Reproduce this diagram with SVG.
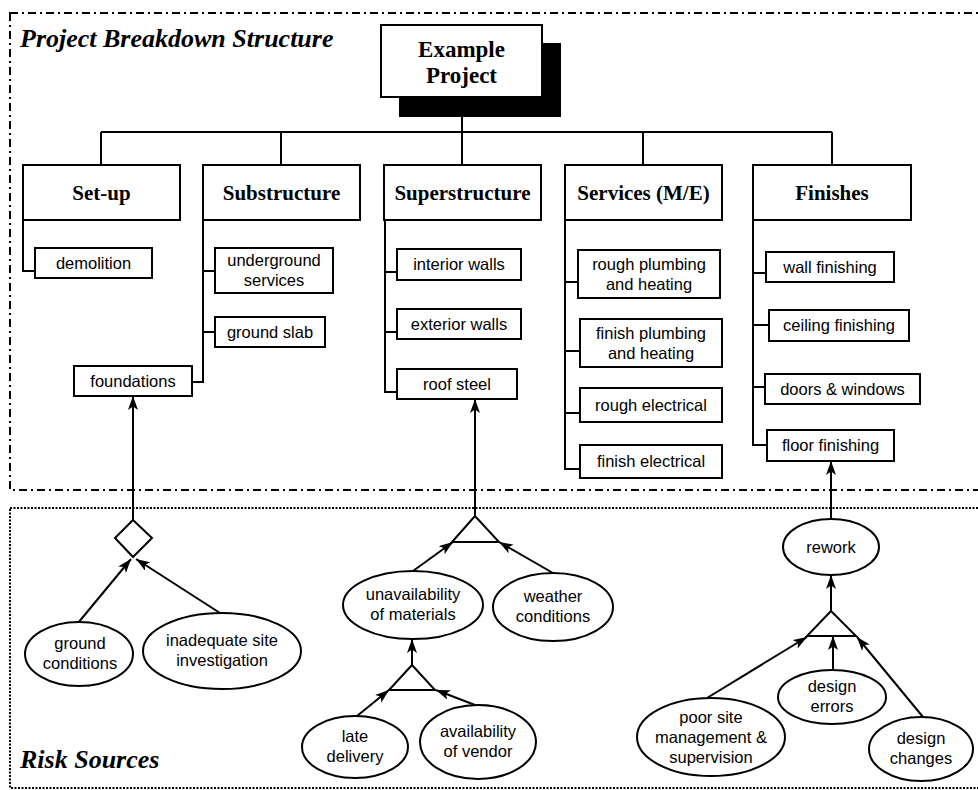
<svg xmlns="http://www.w3.org/2000/svg" width="978" height="790" viewBox="0 0 978 790">
<defs>
<marker id="arr" markerUnits="userSpaceOnUse" markerWidth="14" markerHeight="10" viewBox="0 0 14 10" refX="14" refY="5" orient="auto">
<path d="M0,0 L14,5 L0,10 L3.5,5 Z" fill="#000"/>
</marker>
<style>
.frame1{fill:none;stroke:#000;stroke-width:2;stroke-dasharray:8 4 2 4}
.frame2{fill:none;stroke:#000;stroke-width:2;stroke-dasharray:2 1.5}
.title{font-family:"Liberation Serif",serif;font-weight:bold;font-style:italic;font-size:26px;fill:#000}
.cat{fill:#fff;stroke:#000;stroke-width:2}
.catt{font-family:"Liberation Serif",serif;font-weight:bold;font-size:21px;fill:#000;text-anchor:middle}
.box{fill:#fff;stroke:#000;stroke-width:2}
.t{font-family:"Liberation Sans",Arial,sans-serif;font-size:16.5px;fill:#000;text-anchor:middle}
.ell{fill:#fff;stroke:#000;stroke-width:2}
.ln{fill:none;stroke:#000;stroke-width:2}
.ar{fill:none;stroke:#000;stroke-width:2;marker-end:url(#arr)}
.gate{fill:#fff;stroke:#000;stroke-width:2;stroke-linejoin:miter}
</style>
</defs>
<rect width="978" height="790" fill="#fff"/>

<!-- frames -->
<rect class="frame1" x="10" y="13" width="985" height="477"/>
<rect class="frame2" x="10" y="508" width="985" height="280"/>
<text class="title" x="20" y="47">Project Breakdown Structure</text>
<text class="title" x="20" y="768">Risk Sources</text>

<!-- connectors -->
<g id="connectors">
<path class="ln" d="M462,117 V165 M101,132 H832 M101,132 V165 M281,132 V165 M643,132 V165 M832,132 V165"/>
<path class="ln" d="M23,220 V271 H35"/>
<path class="ln" d="M203,220 V382 H192 M203,271 H215 M203,332 H215"/>
<path class="ln" d="M385,220 V392 H397 M385,272 H397 M385,332 H397"/>
<path class="ln" d="M565,220 V469 H580 M565,282 H578 M565,351 H580 M565,413 H580"/>
<path class="ln" d="M753,220 V445 H767 M753,273 H766 M753,325 H769 M753,387 H765"/>
<path class="ar" d="M133,520 V396"/>
<path class="ar" d="M78,623 L131,559"/>
<path class="ar" d="M220,613 L136,559"/>
<path class="ar" d="M475,516 V399"/>
<path class="ar" d="M413,571 L453,542"/>
<path class="ar" d="M553,573 L499,542"/>
<path class="ar" d="M412,665 V639"/>
<path class="ar" d="M357,716 L389,690"/>
<path class="ar" d="M475,705 L436,690"/>
<path class="ar" d="M831,519 V461"/>
<path class="ar" d="M831,611 V575"/>
<path class="ar" d="M707,698 L807,637"/>
<path class="ar" d="M833,670 V636"/>
<path class="ar" d="M923,717 L857,637"/>
</g>

<!-- gates -->
<g id="gate-diamond"><polygon class="gate" points="133,520 152,538 133,557 115,538"/></g>
<g id="gate-and1"><polygon class="gate" points="475,516 452,542 499,542"/></g>
<g id="gate-and2"><polygon class="gate" points="412,665 389,690 435,690"/></g>
<g id="gate-and3"><polygon class="gate" points="831,611 807,636 856,636"/></g>

<!-- root -->
<g id="example-project">
<rect x="399" y="43" width="162" height="74" fill="#000"/>
<rect class="cat" x="381" y="25" width="161" height="72"/>
<text class="catt" style="font-size:23px" x="461.5" y="57">Example</text>
<text class="catt" style="font-size:23px" x="461.5" y="83">Project</text>
</g>

<!-- categories -->
<g id="setup"><rect class="cat" x="23" y="165" width="157" height="55"/><text class="catt" x="101.5" y="200">Set-up</text></g>
<g id="substructure"><rect class="cat" x="203" y="165" width="157" height="55"/><text class="catt" x="281.5" y="200">Substructure</text></g>
<g id="superstructure"><rect class="cat" x="384" y="165" width="157" height="55"/><text class="catt" x="462.5" y="200">Superstructure</text></g>
<g id="services"><rect class="cat" x="565" y="165" width="157" height="55"/><text class="catt" x="643.5" y="200">Services (M/E)</text></g>
<g id="finishes"><rect class="cat" x="753" y="165" width="158" height="55"/><text class="catt" x="832" y="200">Finishes</text></g>

<!-- work items -->
<g id="demolition"><rect class="box" x="35" y="248" width="117" height="30"/><text class="t" x="93.5" y="269">demolition</text></g>
<g id="underground-services"><rect class="box" x="215" y="248" width="118" height="45"/><text class="t" x="274" y="266">underground</text><text class="t" x="274" y="286">services</text></g>
<g id="ground-slab"><rect class="box" x="215" y="317" width="110" height="30"/><text class="t" x="270" y="338">ground slab</text></g>
<g id="foundations"><rect class="box" x="74" y="366" width="118" height="30"/><text class="t" x="133" y="387">foundations</text></g>
<g id="interior-walls"><rect class="box" x="397" y="249" width="124" height="31"/><text class="t" x="459" y="270">interior walls</text></g>
<g id="exterior-walls"><rect class="box" x="397" y="309" width="124" height="30"/><text class="t" x="459" y="330">exterior walls</text></g>
<g id="roof-steel"><rect class="box" x="397" y="369" width="120" height="30"/><text class="t" x="457" y="390">roof steel</text></g>
<g id="rough-plumbing"><rect class="box" x="578" y="250" width="142" height="48"/><text class="t" x="649" y="270">rough plumbing</text><text class="t" x="649" y="290">and heating</text></g>
<g id="finish-plumbing"><rect class="box" x="580" y="319" width="142" height="48"/><text class="t" x="651" y="339">finish plumbing</text><text class="t" x="651" y="359">and heating</text></g>
<g id="rough-electrical"><rect class="box" x="580" y="388" width="142" height="34"/><text class="t" x="651" y="411">rough electrical</text></g>
<g id="finish-electrical"><rect class="box" x="580" y="445" width="142" height="33"/><text class="t" x="651" y="467">finish electrical</text></g>
<g id="wall-finishing"><rect class="box" x="766" y="252" width="128" height="30"/><text class="t" x="830" y="273">wall finishing</text></g>
<g id="ceiling-finishing"><rect class="box" x="769" y="310" width="140" height="31"/><text class="t" x="839" y="331">ceiling finishing</text></g>
<g id="doors-windows"><rect class="box" x="765" y="374" width="155" height="30"/><text class="t" x="842.5" y="395">doors &amp; windows</text></g>
<g id="floor-finishing"><rect class="box" x="767" y="430" width="127" height="31"/><text class="t" x="830.5" y="451">floor finishing</text></g>

<!-- risk sources -->
<g id="ground-conditions"><ellipse class="ell" cx="79" cy="654" rx="54" ry="32"/><text class="t" x="80" y="649">ground</text><text class="t" x="80" y="669">conditions</text></g>
<g id="inadequate-site"><ellipse class="ell" cx="222" cy="651" rx="79" ry="38"/><text class="t" x="222" y="646">inadequate site</text><text class="t" x="222" y="666">investigation</text></g>
<g id="unavailability"><ellipse class="ell" cx="413" cy="605" rx="70" ry="34"/><text class="t" x="413" y="600">unavailability</text><text class="t" x="413" y="620">of materials</text></g>
<g id="weather"><ellipse class="ell" cx="553" cy="607" rx="60" ry="34"/><text class="t" x="553" y="602">weather</text><text class="t" x="553" y="622">conditions</text></g>
<g id="late-delivery"><ellipse class="ell" cx="355" cy="747" rx="53" ry="31"/><text class="t" x="355" y="742">late</text><text class="t" x="355" y="762">delivery</text></g>
<g id="vendor"><ellipse class="ell" cx="478" cy="742" rx="58" ry="37"/><text class="t" x="478" y="737">availability</text><text class="t" x="478" y="757">of vendor</text></g>
<g id="rework"><ellipse class="ell" cx="831" cy="547" rx="48" ry="28"/><text class="t" x="831" y="553">rework</text></g>
<g id="design-errors"><ellipse class="ell" cx="832" cy="697" rx="54" ry="27"/><text class="t" x="832" y="692">design</text><text class="t" x="832" y="712">errors</text></g>
<g id="poor-site"><ellipse class="ell" cx="711" cy="737" rx="74" ry="39"/><text class="t" x="711" y="723">poor site</text><text class="t" x="711" y="743">management &amp;</text><text class="t" x="711" y="763">supervision</text></g>
<g id="design-changes"><ellipse class="ell" cx="921" cy="749" rx="52" ry="32"/><text class="t" x="921" y="744">design</text><text class="t" x="921" y="764">changes</text></g>
</svg>
